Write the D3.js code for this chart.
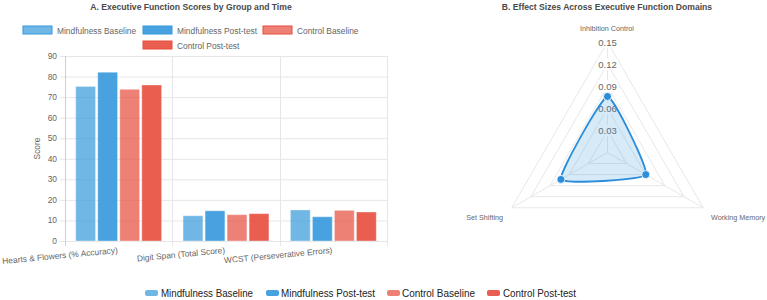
<!DOCTYPE html>
<html lang="en">
<head>
  <meta charset="UTF-8">
  <title>Executive Function</title>
  <script src="https://d3js.org/d3.v7.min.js" charset="utf-8"></script>
  <style>
    body { margin: 0; background: #fff; }
    svg { font-family: "Liberation Sans", Arial, Helvetica, sans-serif; }
  </style>
</head>
<body>
<script>
  // data
  var measures = ['Hearts & Flowers (% Accuracy)', 'Digit Span (Total Score)', 'WCST (Perseverative Errors)']
  var seriesNames = ['Mindfulness Baseline', 'Mindfulness Post-test', 'Control Baseline', 'Control Post-test']
  var mindBaseline = [75.2, 12.3, 15.1]
  var mindPost = [82.1, 14.7, 11.8]
  var ctrlBaseline = [73.8, 12.8, 14.9]
  var ctrlPost = [75.9, 13.3, 14.1]
  var yTicks = [0, 10, 20, 30, 40, 50, 60, 70, 80, 90]

  var domains = ['Inhibition Control', 'Working Memory', 'Set Shifting']
  var effectSizes = [0.076, 0.060, 0.073]
  var rTicks = [0.03, 0.06, 0.09, 0.12, 0.15]

  var fills = ['rgba(52,152,219,0.7)', 'rgba(52,152,219,0.9)', 'rgba(231,76,60,0.7)', 'rgba(231,76,60,0.9)']
  var borders = ['rgb(52,152,219)', 'rgb(52,152,219)', 'rgb(231,76,60)', 'rgb(231,76,60)']
  var allSeries = [mindBaseline, mindPost, ctrlBaseline, ctrlPost]

  var svg = d3.select('body').append('svg').attr('width', 767).attr('height', 300)

  // ---------- A. bar chart ----------
  var pLeft = 65, pRight = 387, pTop = 56, pBottom = 241
  var x0 = d3.scaleBand().domain(measures).range([pLeft, pRight])
  var x1 = d3.scaleBand().domain(d3.range(4)).range([0, x0.bandwidth() * 0.8]).paddingInner(0.1)
  var y = d3.scaleLinear().domain([0, 90]).range([pBottom, pTop])

  svg.append('text').attr('x', 191).attr('y', 10).attr('text-anchor', 'middle')
    .attr('font-size', 8.6).attr('font-weight', 'bold').attr('fill', '#4a4a4a')
    .text('A. Executive Function Scores by Group and Time')

  // top legend
  var legTop = svg.append('g')
  var legPos = [[23, 26], [143, 26], [263, 26], [143, 41]]
  seriesNames.forEach(function(name, i) {
    var g = legTop.append('g').attr('transform', 'translate(' + legPos[i][0] + ',' + legPos[i][1] + ')')
    g.append('rect').attr('width', 29).attr('height', 8).attr('fill', fills[i]).attr('stroke', borders[i]).attr('stroke-width', 1)
    g.append('text').attr('x', 34).attr('y', 7.5).attr('font-size', 8.4).attr('fill', '#666').text(name)
  })

  // grid
  var grid = svg.append('g')
  grid.selectAll('.hg').data(yTicks).enter().append('line')
    .attr('x1', pLeft - 5).attr('x2', pRight).attr('y1', function(d) { return y(d) + 0.5 }).attr('y2', function(d) { return y(d) + 0.5 })
    .attr('stroke', '#e6e6e6').attr('stroke-width', 1)
  var vLines = measures.map(function(m) { return x0(m) }).concat([pRight])
  grid.selectAll('.vg').data(vLines).enter().append('line')
    .attr('x1', function(d) { return Math.round(d) + 0.5 }).attr('x2', function(d) { return Math.round(d) + 0.5 })
    .attr('y1', pTop).attr('y2', pBottom + 5)
    .attr('stroke', function(d, i) { return i === 0 ? '#d0d0d0' : '#e6e6e6' }).attr('stroke-width', 1)

  svg.append('g').selectAll('text').data(yTicks).enter().append('text')
    .attr('x', pLeft - 8).attr('y', function(d) { return y(d) + 3 }).attr('text-anchor', 'end')
    .attr('font-size', 8.4).attr('fill', '#666').text(function(d) { return d })

  svg.append('text').attr('transform', 'translate(40,' + ((pTop + pBottom) / 2) + ') rotate(-90)')
    .attr('text-anchor', 'middle').attr('font-size', 8.4).attr('fill', '#666').text('Score')

  // bars
  var groups = svg.append('g').selectAll('g').data(measures).enter().append('g')
    .attr('transform', function(m) { return 'translate(' + (x0(m) + x0.bandwidth() * 0.1) + ',0)' })
  groups.selectAll('rect').data(function(m, mi) { return allSeries.map(function(s, si) { return { si: si, v: s[mi] } }) })
    .enter().append('rect')
    .attr('x', function(d) { return x1(d.si) }).attr('width', x1.bandwidth())
    .attr('y', function(d) { return y(d.v) }).attr('height', function(d) { return pBottom - y(d.v) })
    .attr('fill', function(d) { return fills[d.si] })
    .attr('stroke', 'rgba(255,255,255,0.35)').attr('stroke-width', 1)

  // x labels (rotated)
  svg.append('g').selectAll('text').data(measures).enter().append('text')
    .attr('transform', function(m) { return 'translate(' + (x0(m) + x0.bandwidth() / 2 - 1) + ',' + (pBottom + 9) + ') rotate(-5.5)' })
    .attr('text-anchor', 'end').attr('dy', '0.35em').attr('font-size', 8.4).attr('fill', '#666')
    .text(function(m) { return m })

  // ---------- B. radar ----------
  var cx = 607.5, cy = 152.5, R = 110.5
  var r = d3.scaleLinear().domain([0, 0.15]).range([0, R])
  var angle = function(i) { return i * 2 * Math.PI / domains.length }
  var pt = function(v, i) { return [cx + r(v) * Math.sin(angle(i)), cy - r(v) * Math.cos(angle(i))] }

  svg.append('text').attr('x', 607).attr('y', 10).attr('text-anchor', 'middle')
    .attr('font-size', 8.6).attr('font-weight', 'bold').attr('fill', '#4a4a4a')
    .text('B. Effect Sizes Across Executive Function Domains')

  var rg = svg.append('g')
  rTicks.forEach(function(t) {
    rg.append('polygon').attr('points', domains.map(function(d, i) { return pt(t, i).join(',') }).join(' '))
      .attr('fill', 'none').attr('stroke', '#e8e8e8').attr('stroke-width', 1)
  })
  domains.forEach(function(d, i) {
    var p = pt(0.15, i)
    rg.append('line').attr('x1', cx).attr('y1', cy).attr('x2', p[0]).attr('y2', p[1])
      .attr('stroke', '#e8e8e8').attr('stroke-width', 1)
  })

  // tick labels with backdrop
  rTicks.forEach(function(t) {
    var yy = cy - r(t)
    rg.append('rect').attr('x', cx - 10).attr('y', yy - 6).attr('width', 20).attr('height', 12).attr('fill', '#fff')
    rg.append('text').attr('x', cx).attr('y', yy + 3.5).attr('text-anchor', 'middle')
      .attr('font-size', 9.5).attr('fill', '#666').text(t.toFixed(2))
  })

  // point labels
  var labelPos = [
    { x: 607, y: 31, anchor: 'middle' },
    { x: 711, y: 220, anchor: 'start' },
    { x: 503, y: 220, anchor: 'end' }
  ]
  domains.forEach(function(d, i) {
    svg.append('text').attr('x', labelPos[i].x).attr('y', labelPos[i].y).attr('text-anchor', labelPos[i].anchor)
      .attr('font-size', 7.2).attr('fill', '#666').text(d)
  })

  var radial = d3.line().curve(d3.curveCardinalClosed.tension(0.6))
  var pts = effectSizes.map(function(v, i) { return pt(v, i) })
  svg.append('path').attr('d', radial(pts))
    .attr('fill', 'rgba(52,152,219,0.2)').attr('stroke', 'rgb(44,142,218)').attr('stroke-width', 1.8)
  svg.append('g').selectAll('circle').data(pts).enter().append('circle')
    .attr('cx', function(d) { return d[0] }).attr('cy', function(d) { return d[1] }).attr('r', 4)
    .attr('fill', 'rgb(44,142,218)').attr('stroke', '#fff').attr('stroke-width', 0.8)

  // ---------- bottom legend ----------
  var bottomLeg = [[145, 161, 92], [266, 281, 94], [387, 402, 73], [487, 503, 73]]
  seriesNames.forEach(function(name, i) {
    svg.append('rect').attr('x', bottomLeg[i][0]).attr('y', 290).attr('width', 13).attr('height', 6).attr('rx', 2)
      .attr('fill', fills[i])
    svg.append('text').attr('x', bottomLeg[i][1]).attr('y', 297).attr('font-size', 11).attr('fill', '#222')
      .attr('textLength', bottomLeg[i][2]).attr('lengthAdjust', 'spacingAndGlyphs')
      .text(name)
  })
</script>
</body>
</html>
